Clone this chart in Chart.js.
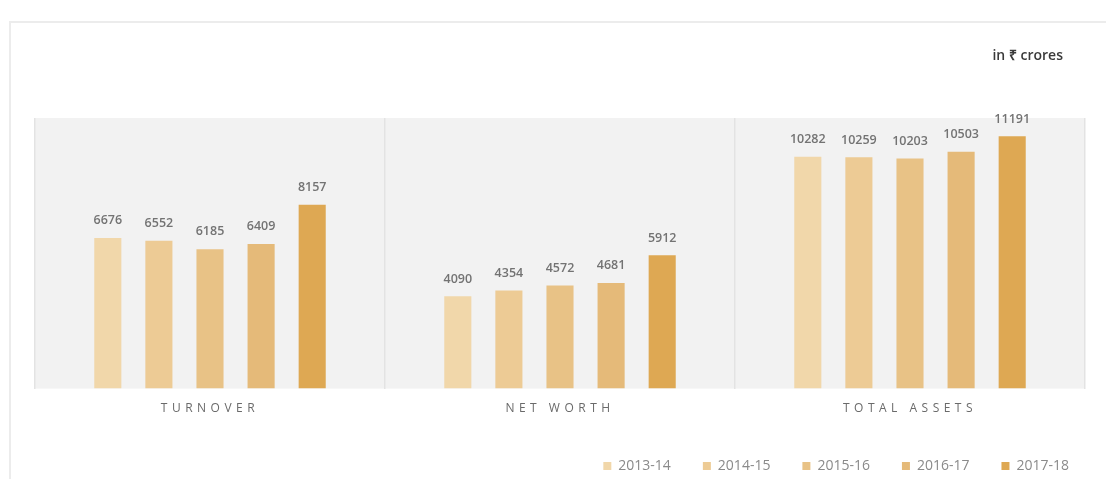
<!DOCTYPE html>
<html>
<head>
<meta charset="utf-8">
<script src="https://cdn.jsdelivr.net/npm/chart.js@4.4.1/dist/chart.umd.min.js"></script>
<style>
    html, body { margin: 0; padding: 0; background: #fff; }
    #wrap { position: relative; width: 1106px; height: 479px; overflow: hidden; }
    #frame {
        position: absolute; left: 9px; top: 21px; right: -4px; bottom: -4px;
        border-left: 2px solid #ececec; border-top: 2px solid #ececec;
    }
    #chart { position: absolute; left: 0; top: 0; }
</style>
</head>
<body>
<div id="wrap">
    <div id="frame"></div>
    <canvas id="chart" width="1106" height="479"></canvas>
</div>
<script>
// Data
const categories = ['TURNOVER', 'NET WORTH', 'TOTAL ASSETS'];
const years = ['2013-14', '2014-15', '2015-16', '2016-17', '2017-18'];
const values2013 = [6676, 4090, 10282];
const values2014 = [6552, 4354, 10259];
const values2015 = [6185, 4572, 10203];
const values2016 = [6409, 4681, 10503];
const values2017 = [8157, 5912, 11191];
const unitLabel = 'in ₹ crores';

const barColors = ['#f1d7aa', '#edcb95', '#e8c286', '#e5ba79', '#dea853'];
const allValues = [values2013, values2014, values2015, values2016, values2017];

// category axis with spaced-out capitals
class SpacedCategory extends Chart.CategoryScale {
    drawLabels(area) {
        this.ctx.save();
        this.ctx.letterSpacing = '4.5px';
        super.drawLabels(area);
        this.ctx.restore();
    }
}
SpacedCategory.id = 'spacedCategory';
SpacedCategory.defaults = Chart.CategoryScale.defaults;
Chart.register(SpacedCategory);

// grey panel behind the plot, unit note top right
const panelPlugin = {
    id: 'panel',
    afterLayout: function(chart) {
        // nudge the legend a little right and up
        const lg = chart.legend;
        lg.left += 16; lg.right += 16;
        lg.top -= 2; lg.bottom -= 2;
    },
    beforeDraw: function(chart) {
        const a = chart.chartArea;
        const ctx = chart.ctx;
        ctx.save();
        ctx.fillStyle = '#f2f2f2';
        ctx.fillRect(a.left, a.top, a.right - a.left, a.bottom - a.top);
        ctx.font = '600 14px "Open Sans", sans-serif';
        ctx.fillStyle = '#3a3a3a';
        ctx.textAlign = 'right';
        ctx.textBaseline = 'middle';
        ctx.fillText(unitLabel, a.right - 22, 56);
        ctx.restore();
    }
};

// value labels above each bar
const valueLabels = {
    id: 'valueLabels',
    afterDatasetsDraw: function(chart) {
        const ctx = chart.ctx;
        ctx.save();
        ctx.font = '600 12.5px "Open Sans", sans-serif';
        ctx.fillStyle = '#737373';
        ctx.textAlign = 'center';
        ctx.textBaseline = 'bottom';
        chart.data.datasets.forEach((ds, i) => {
            chart.getDatasetMeta(i).data.forEach((bar, j) => {
                ctx.fillText(String(ds.data[j]), bar.x, bar.y - 11);
            });
        });
        ctx.restore();
    }
};

new Chart(document.getElementById('chart'), {
    type: 'bar',
    data: {
        labels: categories,
        datasets: years.map((y, i) => ({
            label: y,
            data: allValues[i],
            backgroundColor: barColors[i],
            borderWidth: 0,
            categoryPercentage: 0.73,
            barPercentage: 0.53
        }))
    },
    options: {
        responsive: false,
        animation: false,
        layout: { padding: { left: 35, right: 21, top: 118, bottom: -6 } },
        plugins: {
            legend: {
                position: 'bottom',
                align: 'end',
                labels: {
                    boxWidth: 8,
                    boxHeight: 8,
                    padding: 32,
                    color: '#8a8a8a',
                    font: { family: '"Open Sans", sans-serif', size: 14 }
                }
            },
            tooltip: { enabled: false }
        },
        scales: {
            x: {
                type: 'spacedCategory',
                grid: { display: true, color: '#e3e3e3', lineWidth: 1.5, drawTicks: false },
                border: { display: false },
                ticks: {
                    color: '#6a6a6a',
                    padding: 13,
                    font: { family: '"Open Sans", sans-serif', size: 12 }
                }
            },
            y: {
                display: false,
                min: 0,
                max: 12000
            }
        }
    },
    plugins: [panelPlugin, valueLabels]
});
</script>
</body>
</html>
